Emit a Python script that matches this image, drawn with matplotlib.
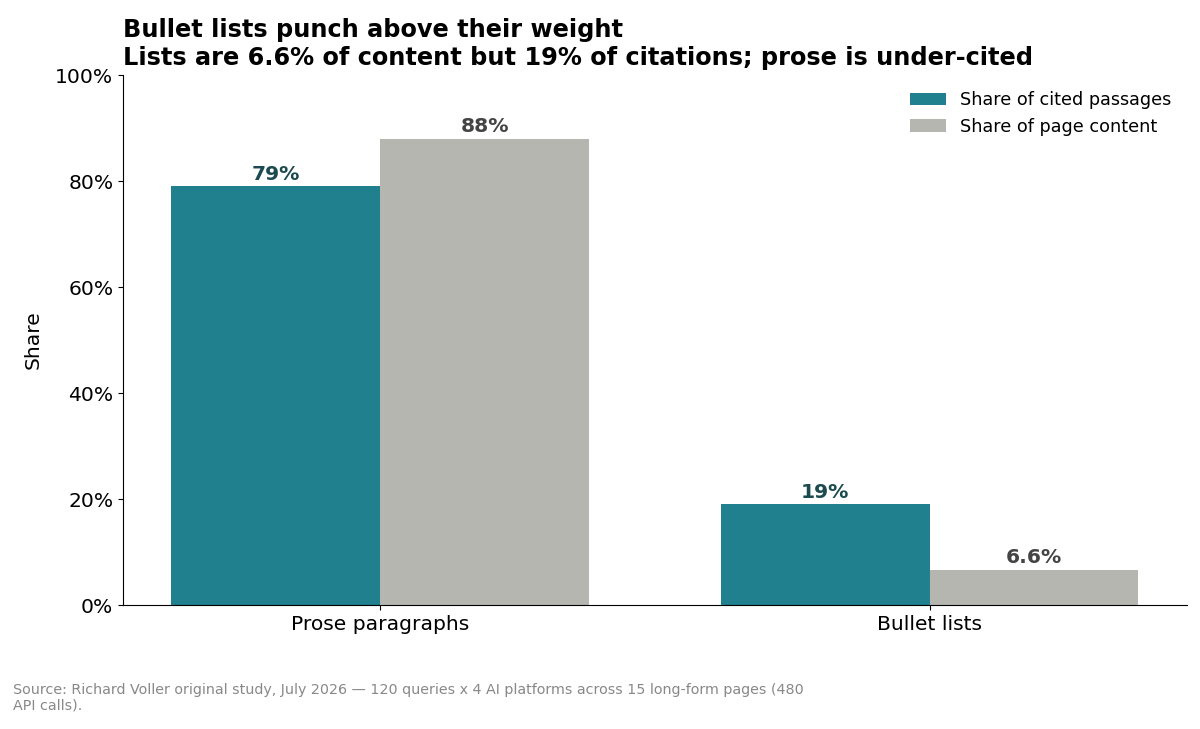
import numpy as np
import matplotlib.pyplot as plt
from matplotlib.ticker import PercentFormatter

categories = ["Prose paragraphs", "Bullet lists"]
cited = [0.79, 0.19]
content = [0.88, 0.066]
cited_labels = ["79%", "19%"]
content_labels = ["88%", "6.6%"]

teal = "#20808D"
grey = "#B6B6B1"

fig, ax = plt.subplots(figsize=(12, 7.29), dpi=100)
fig.subplots_adjust(left=0.1025, right=0.989, top=0.897, bottom=0.17)

x = np.arange(len(categories))
w = 0.38
b1 = ax.bar(x - w / 2, cited, w, color=teal, label="Share of cited passages")
b2 = ax.bar(x + w / 2, content, w, color=grey, label="Share of page content")

ax.bar_label(b1, labels=cited_labels, padding=2, fontsize=14.6, fontweight="bold", color="#1B4A50")
ax.bar_label(b2, labels=content_labels, padding=2, fontsize=14.6, fontweight="bold", color="#444444")

ax.set_ylim(0, 1)
ax.yaxis.set_major_formatter(PercentFormatter(1.0, decimals=0))
ax.set_xticks(x)
ax.set_xticklabels(categories)
ax.tick_params(axis="both", labelsize=14.6)
ax.set_ylabel("Share", fontsize=14.6, labelpad=9)
ax.spines["top"].set_visible(False)
ax.spines["right"].set_visible(False)

ax.set_title("Bullet lists punch above their weight\n"
             "Lists are 6.6% of content but 19% of citations; prose is under-cited",
             loc="left", fontsize=17.3, fontweight="bold", pad=7, linespacing=1.25)

ax.legend(frameon=False, fontsize=12.7, loc="upper right")

fig.text(0.011, 0.022,
         "Source: Richard Voller original study, July 2026 \u2014 120 queries x 4 AI platforms across 15 long-form pages (480\nAPI calls).",
         fontsize=10.25, color="#888888", ha="left", va="bottom")

fig.savefig("out.png", dpi=100)
